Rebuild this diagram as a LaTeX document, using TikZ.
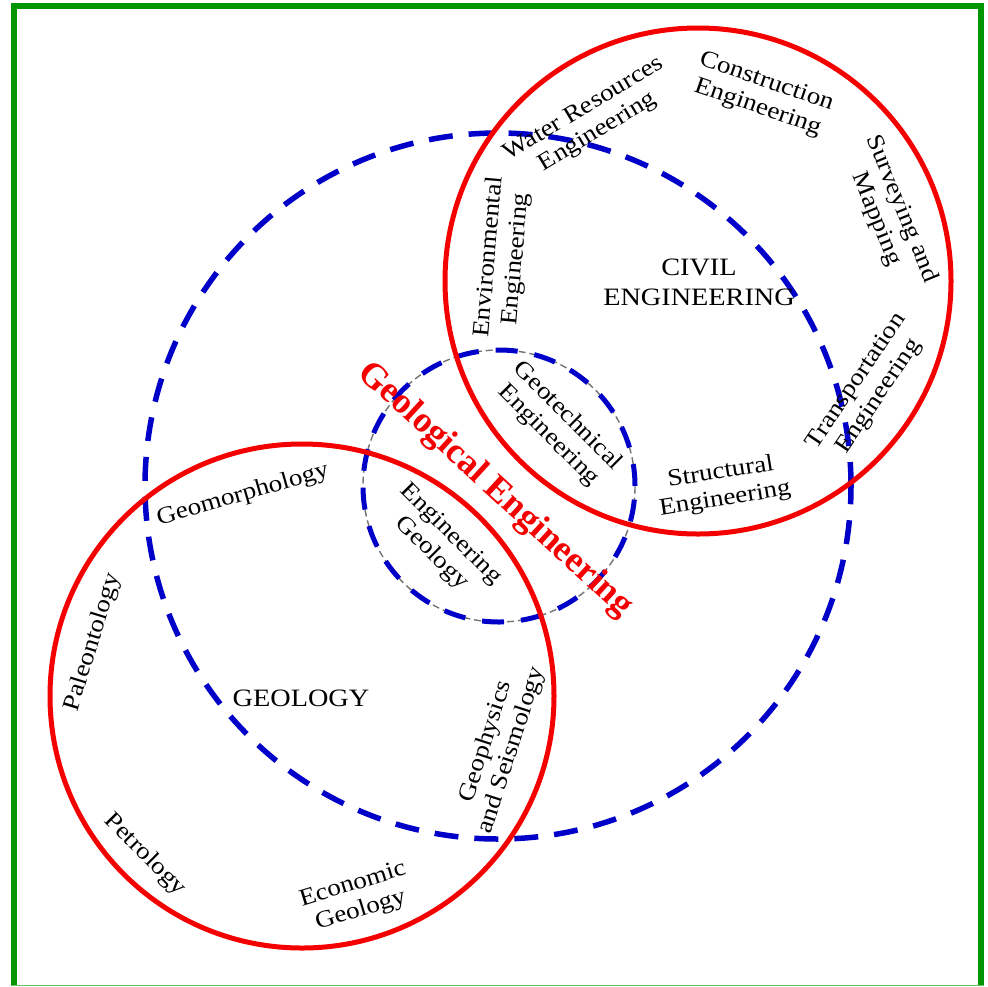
\documentclass[tikz,border=0pt]{standalone}
\usepackage{fontspec}
\setmainfont{Liberation Serif}[FakeStretch=1.13]
\newfontfamily\redfont{Liberation Serif}
\definecolor{cred}{RGB}{245,0,0}
\definecolor{cblue}{RGB}{0,0,200}
\definecolor{cgreen}{RGB}{0,150,0}
\begin{document}
\begin{tikzpicture}[x=1pt,y=-1pt,
  redring/.style={circle,draw=cred,line width=5pt,inner sep=0pt},
  bigdash/.style={circle,draw=cblue,line width=5.5pt,dash pattern=on 24pt off 16pt,inner sep=0pt},
  thindash/.style={circle,draw=black!55,line width=1.4pt,dash pattern=on 7pt off 4pt,inner sep=0pt},
  smalldash/.style={circle,draw=cblue,line width=5pt,dash pattern=on 22pt off 17pt,inner sep=0pt},
  lbl/.style={font=\fontsize{24}{27}\selectfont,align=center,inner sep=0pt,text=black},
  capslbl/.style={font=\fontsize{25}{30}\selectfont,align=center,inner sep=0pt,text=black},
  geolbl/.style={font=\redfont\bfseries\fontsize{36}{40}\selectfont,text=cred,inner sep=0pt}]
\useasboundingbox (0,0) rectangle (988,986);
\fill[white] (0,0) rectangle (988,986);
% frame
\coordinate (f1) at (14,986);
\coordinate (f2) at (14,6);
\coordinate (f3) at (981,6);
\coordinate (f4) at (981,986);
\coordinate (b1) at (11,985.3);
\coordinate (b2) at (984,985.3);
\draw[cgreen,line width=6pt] (f1) -- (f2) -- (f3) -- (f4);
\draw[cgreen!60,line width=1.3pt] (b1) -- (b2);
% circles
\node[thindash,minimum size=272pt] (smallg) at (499,486) {};
\node[smalldash,minimum size=272pt] (small) at (499,486) {};
\node[bigdash,minimum size=706pt] (big) at (498,486) {};
\node[redring,minimum size=506pt] (civil) at (698,281) {};
\node[redring,minimum size=504pt] (geology) at (302,696) {};
% civil labels
\node[capslbl] (ce) at (699,282) {CIVIL\\ENGINEERING};
\node[lbl,rotate=31] (wr) at (591,121) {Water Resources\\Engineering};
\node[lbl,rotate=-19] (cons) at (762,95) {Construction\\Engineering};
\node[lbl,rotate=-68] (surv) at (889,214) {Surveying and\\Mapping};
\node[lbl,rotate=85] (env) at (503,258) {Environmental\\Engineering};
\node[lbl,rotate=56] (trans) at (868,389) {Transportation\\Engineering};
\node[lbl,rotate=9] (struct) at (723,486) {Structural\\Engineering};
\node[lbl,rotate=-45] (geot) at (558,426) {Geotechnical\\Engineering};
% geology labels
\node[capslbl] (geo) at (301,698) {GEOLOGY};
\node[lbl,rotate=16] (geom) at (243,495) {Geomorphology};
\node[lbl,rotate=73] (paleo) at (93,642) {Paleontology};
\node[lbl,rotate=-45] (petro) at (145,855) {Petrology};
\node[lbl,rotate=17] (econ) at (357,898) {Economic\\Geology};
\node[lbl,rotate=72] (geoph) at (499,746) {Geophysics\\and Seismology};
\node[lbl,rotate=-45] (enggeo) at (441,544) {Engineering\\Geology};
% title
\node[geolbl,rotate=-42.5] (title) at (495,490) {Geological Engineering};
\end{tikzpicture}
\end{document}
